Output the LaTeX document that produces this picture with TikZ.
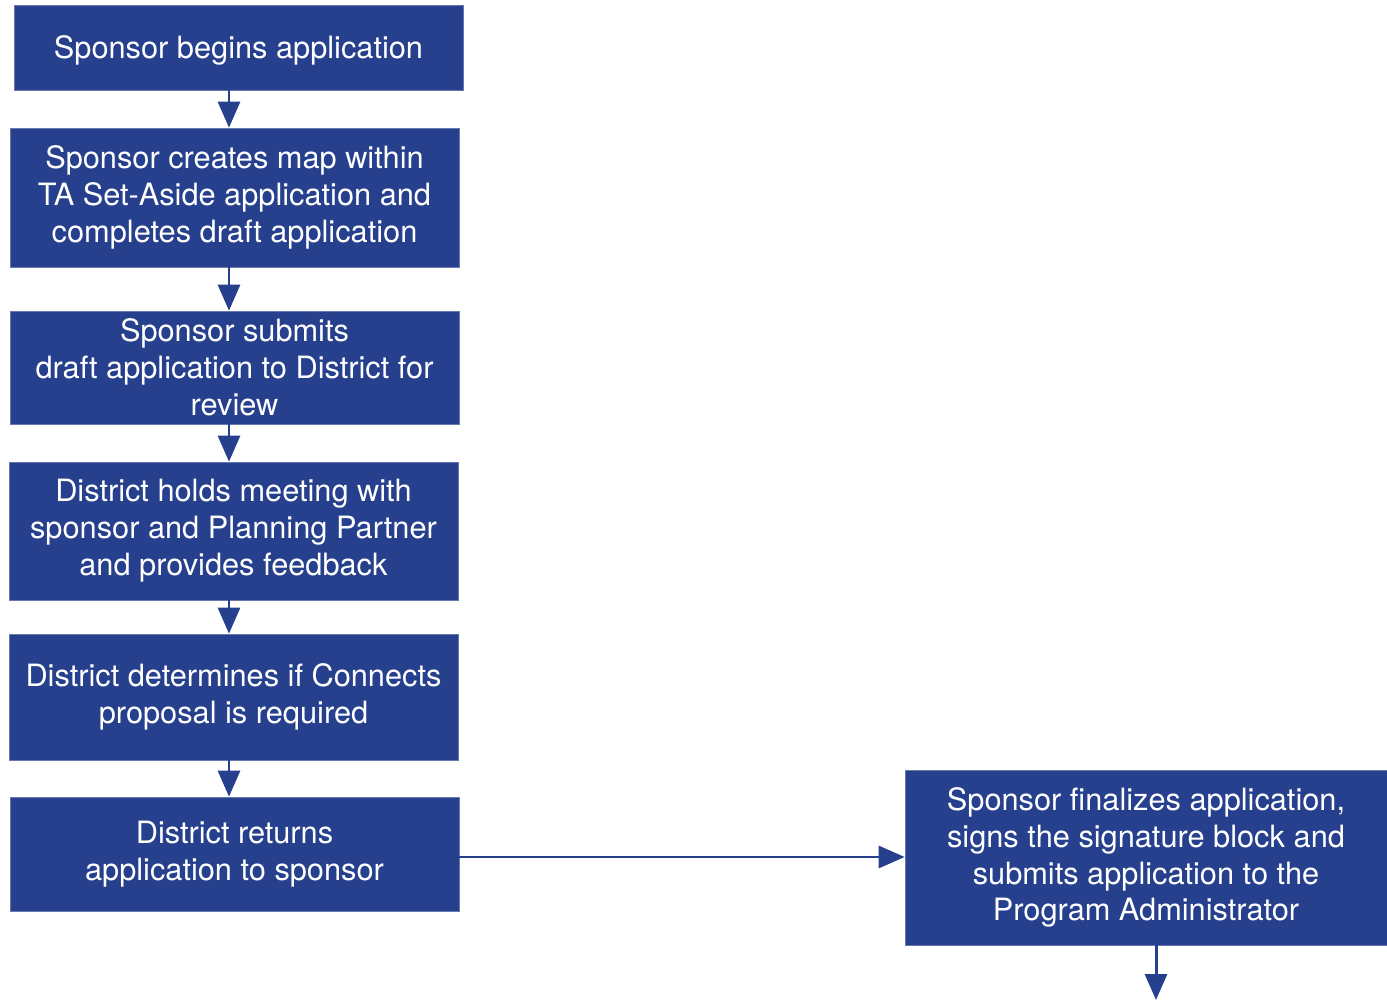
\documentclass[tikz,border=0pt]{standalone}
\usepackage{fontspec}
\setmainfont{TeX Gyre Heros}
\usetikzlibrary{arrows.meta}
\definecolor{flowblue}{RGB}{38,64,142}

\begin{document}
\begin{tikzpicture}[x=0.02cm,y=-0.02cm,
    stepbox/.style={fill=flowblue,draw=flowblue!70!white,line width=0.4pt,text=white,
        align=center,inner sep=0pt,minimum width=8.98cm,
        font=\fontsize{17.5}{21}\selectfont,
        execute at begin node={\rule{0pt}{16pt}}},
    arr/.style={draw=flowblue,line width=1.7pt,
        -{Triangle[length=0.52cm,width=0.44cm,fill=flowblue]}}]
            \def\ax{229}
            \useasboundingbox (0,0) rectangle (1387,1000);
            \coordinate (axis) at (\ax,0);

            \node[stepbox,minimum height=1.70cm] (begin) at (238.5,47.5)
                {Sponsor begins application};
            \node[stepbox,minimum height=2.78cm] (createmap) at (234.5,197.5)
                {Sponsor creates map within\\TA Set-Aside application and\\completes draft application};
            \node[stepbox,minimum height=2.26cm] (submitdraft) at (234.5,367.5)
                {Sponsor submits\\draft application to District for\\review};
            \node[stepbox,minimum height=2.76cm] (meeting) at (233.5,531)
                {District holds meeting with\\sponsor and Planning Partner\\and provides feedback};
            \node[stepbox,minimum height=2.52cm] (determine) at (233.5,697)
                {District determines if Connects\\proposal is required};
            \node[stepbox,minimum height=2.28cm] (returns) at (234.5,854)
                {District returns\\application to sponsor};
            \node[stepbox,minimum width=9.64cm,minimum height=3.50cm] (finalize) at (1146,857.5)
                {Sponsor finalizes application,\\signs the signature block and\\submits application to the\\Program Administrator};
            \coordinate (next) at (1156,1000);

            % arrows down the left column
            \draw[arr] (begin.south -| axis) -- (createmap.north -| axis);
            \draw[arr] (createmap.south -| axis) -- (submitdraft.north -| axis);
            \draw[arr] (submitdraft.south -| axis) -- (meeting.north -| axis);
            \draw[arr] (meeting.south -| axis) -- (determine.north -| axis);
            \draw[arr] (determine.south -| axis) -- (returns.north -| axis);

            \draw[arr] (returns.east |- 0,857) -- (finalize.west |- 0,857);
            \draw[arr] (finalize.south -| next) -- (next);
        \end{tikzpicture}
\end{document}
